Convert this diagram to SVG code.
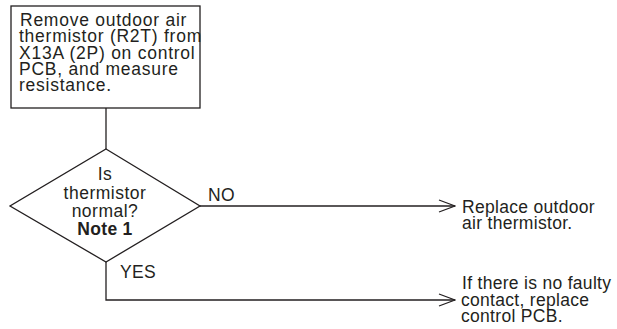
<svg xmlns="http://www.w3.org/2000/svg" width="617" height="329" viewBox="0 0 617 329">
<style>
.s{fill:none;stroke:#231f20;stroke-width:1.3}
.t{font-family:"Liberation Sans",Arial,sans-serif;font-size:17.5px;fill:#231f20;letter-spacing:0.3px}
.w{letter-spacing:0.75px}
.m{letter-spacing:0.5px}
.b{font-weight:bold;letter-spacing:0.3px}
</style>
<defs>
<marker id="ah" viewBox="0 0 18 14" refX="17" refY="7" markerWidth="18" markerHeight="14" markerUnits="userSpaceOnUse" orient="auto">
<path d="M1,1 L17,7 L1,13" fill="none" stroke="#231f20" stroke-width="1.3"/>
</marker>
</defs>
<rect width="617" height="329" fill="#fff"/>
<g id="connectors">
<line class="s" x1="106" y1="108" x2="106" y2="149"/>
<line class="s" x1="200" y1="206" x2="455" y2="206" marker-end="url(#ah)"/>
<polyline class="s" points="106,262 106,300 455,300" marker-end="url(#ah)"/>
<text class="t" x="208" y="201">NO</text>
<text class="t" x="120" y="278">YES</text>
</g>
<g id="start">
<rect class="s" x="11" y="6" width="189" height="102"/>
<text class="t w" x="20" y="26">Remove outdoor air</text>
<text class="t w" x="19" y="42.3">thermistor (R2T) from</text>
<text class="t w" x="19" y="58.6">X13A (2P) on control</text>
<text class="t w" x="19" y="75">PCB, and measure</text>
<text class="t w" x="19" y="91.3">resistance.</text>
</g>
<g id="decision">
<polygon class="s" points="106,149 200,206 106,262 10,206"/>
<text class="t m" x="105" y="180" text-anchor="middle">Is</text>
<text class="t m" x="105" y="198.5" text-anchor="middle">thermistor</text>
<text class="t m" x="105" y="217" text-anchor="middle">normal?</text>
<text class="t b" x="105" y="235" text-anchor="middle">Note 1</text>
</g>
<g id="replace-thermistor">
<text class="t" x="462" y="213">Replace outdoor</text>
<text class="t" x="462" y="229">air thermistor.</text>
</g>
<g id="replace-pcb">
<text class="t" x="462" y="289">If there is no faulty</text>
<text class="t" x="461" y="305.5">contact, replace</text>
<text class="t" x="461" y="322">control PCB.</text>
</g>
</svg>
